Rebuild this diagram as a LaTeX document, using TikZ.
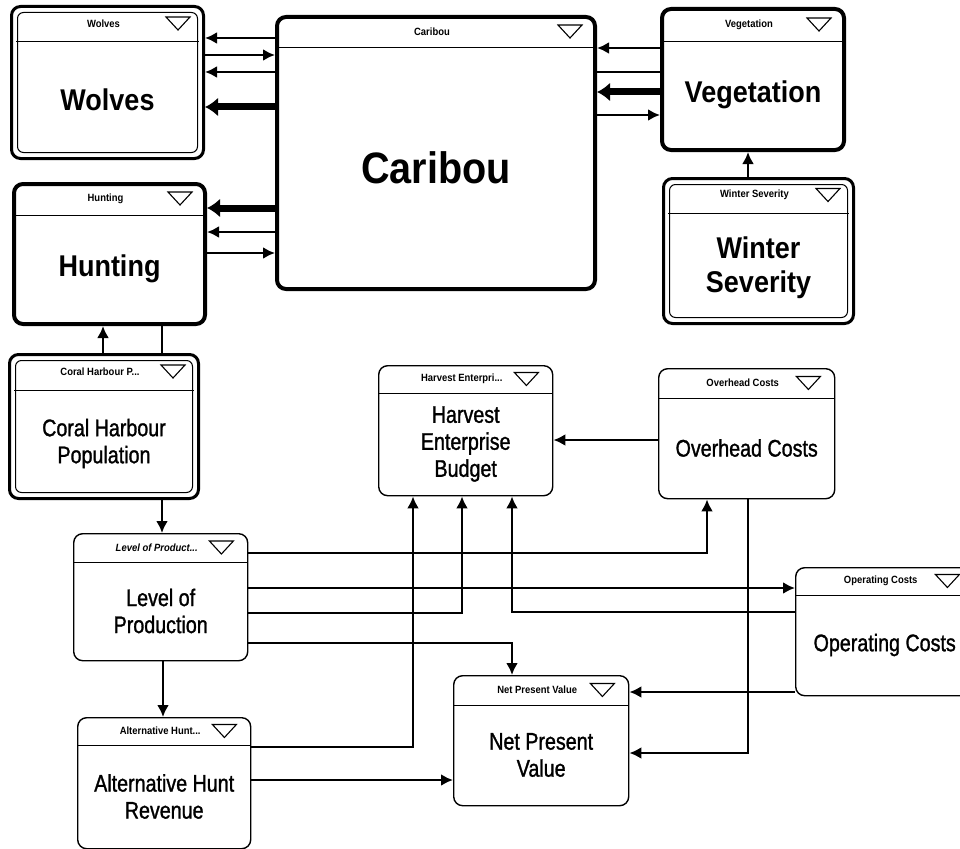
\documentclass[tikz,border=0pt]{standalone}
\usepackage{fontspec}
\newfontfamily\modfont[FakeStretch=0.9]{Liberation Sans}
\newfontfamily\labelfont[FakeStretch=0.82, FakeBold=1.2]{Liberation Sans}
\usetikzlibrary{arrows.meta,backgrounds}

% one model module: box, title bar, menu triangle, label
% #1 name, #2 box style, #3 label style, #4 top left corner,
% #5 width, #6 height, #7 title bar height, #8 title, #9 label
\newcommand{\modul}[9]{%
  \node[#2, minimum width=#5pt, minimum height=#6pt] (#1) at #4 {};
  \draw[headline, #2-line] ([yshift=-#7pt]#1.north west) -- ([yshift=-#7pt]#1.north east);
  \node[headtxt] (#1-head) at ([xshift=-4pt, yshift=-#7pt/2]#1.north) {#8};
  \draw[line width=1.1pt, line join=miter]
    ([xshift=-39pt, yshift=-#7pt/2+6.5pt]#1.north east) -- ++(24,0) -- ++(-12,13) -- cycle;
  \node[#3] (#1-label) at ([yshift=-#6pt/2-#7pt/2]#1.north) {#9};
}

\tikzset{
  box/.style={draw, fill=white, rounded corners=9pt, inner sep=0pt, anchor=north west},
  thinbox/.style={box, line width=1.4pt},
  thickbox/.style={box, line width=4pt},
  doublebox/.style={box, line width=3pt,
    path picture={\draw[line width=1pt, rounded corners=6pt]
      ([shift={(6pt,-6pt)}]path picture bounding box.north west) rectangle
      ([shift={(-6pt,6pt)}]path picture bounding box.south east);}},
  headline/.style={line width=1pt},
  thinbox-line/.style={},
  thickbox-line/.style={},
  doublebox-line/.style={shorten <=6pt, shorten >=6pt},
  headtxt/.style={font=\modfont\bfseries\fontsize{10.5}{12}\selectfont, inner sep=0pt},
  hugetxt/.style={font=\modfont\bfseries\fontsize{44}{48}\selectfont, align=center, inner sep=0pt},
  bigtxt/.style={font=\modfont\bfseries\fontsize{30}{34}\selectfont, align=center, inner sep=0pt},
  smalltxt/.style={font=\labelfont\fontsize{24}{27}\selectfont, align=center, inner sep=0pt},
  conn/.style={line width=2.8pt, -{Latex[length=12pt,width=12pt]}},
  fatconn/.style={line width=7pt, -{Latex[length=13pt,width=19pt]}},
}

\begin{document}
\begin{tikzpicture}[x=1pt, y=-1pt]
  \useasboundingbox (0,0) rectangle (960,848);

  % ecological part
  \modul{wolves}{doublebox}{bigtxt}{(10,5)}{192}{152}{37}{Wolves}{Wolves}
  \modul{caribou}{thickbox}{hugetxt}{(275,15)}{318}{272}{33}{Caribou}{Caribou}
  \modul{vegetation}{thickbox}{bigtxt}{(660,7)}{182}{141}{35}{Vegetation}{Vegetation}
  \modul{winter}{doublebox}{bigtxt}{(662,177)}{190}{145}{36}{Winter Severity}{Winter\\Severity}
  \modul{hunting}{thickbox}{bigtxt}{(12,182)}{191}{140}{33}{Hunting}{Hunting}
  \modul{coral}{doublebox}{smalltxt}{(8,353)}{189}{144}{37}{Coral Harbour P...}{Coral Harbour\\Population}

  % economic part
  \modul{harvest}{thinbox}{smalltxt}{(378,365)}{174}{130}{28}{Harvest Enterpri...}{Harvest\\Enterprise\\Budget}
  \modul{overhead}{thinbox}{smalltxt}{(658,368)}{176}{130}{30}{Overhead Costs}{Overhead Costs}
  \modul{level}{thinbox}{smalltxt}{(73,533)}{174}{127}{29}{\itshape Level of Product...}{Level of\\Production}
  \modul{operating}{thinbox}{smalltxt}{(795,567)}{178}{128}{28}{Operating Costs}{Operating Costs}
  \modul{npv}{thinbox}{smalltxt}{(453,675)}{175}{130}{30}{Net Present Value}{Net Present\\Value}
  \modul{alternative}{thinbox}{smalltxt}{(77,717)}{173}{131}{28}{Alternative Hunt...}{Alternative Hunt\\Revenue}

  % caribou links
  \draw[conn] (caribou.west |- 0,38) -- (wolves.east |- 0,38);
  \draw[conn] (wolves.east |- 0,55) -- (caribou.west |- 0,55);
  \draw[conn] (caribou.west |- 0,72) -- (wolves.east |- 0,72);
  \draw[fatconn] (caribou.west |- 0,107) -- (wolves.east |- 0,107);
  \draw[fatconn] (caribou.west |- 0,208) -- (hunting.east |- 0,208);
  \draw[conn] (caribou.west |- 0,232) -- (hunting.east |- 0,232);
  \draw[conn] (hunting.east |- 0,253) -- (caribou.west |- 0,253);
  \draw[conn] (vegetation.west |- 0,48) -- (caribou.east |- 0,48);
  \draw[line width=2.8pt] (vegetation.west |- 0,72) -- (caribou.east |- 0,72);
  \draw[fatconn] (vegetation.west |- 0,92) -- (caribou.east |- 0,92);
  \draw[conn] (caribou.east |- 0,115) -- (vegetation.west |- 0,115);
  \draw[conn] (winter.north -| 748,0) -- (vegetation.south -| 748,0);
  \draw[conn] (coral.north -| 103,0) -- (hunting.south -| 103,0);
  \begin{pgfonlayer}{background}
    \fill[white] (0,0) rectangle (960,848);
    \draw[conn] (hunting.south -| 162,0) -- (level.north -| 162,0);
  \end{pgfonlayer}

  % budget links
  \draw[conn] (level.south -| 163,0) -- (alternative.north -| 163,0);
  \draw[conn] (level.east |- 0,553) -| (overhead.south -| 707,0);
  \draw[conn] (level.east |- 0,588) -- (operating.west |- 0,588);
  \draw[conn] (level.east |- 0,613) -| (harvest.south -| 462,0);
  \draw[conn] (level.east |- 0,643) -| (npv.north -| 512,0);
  \draw[conn] (operating.west |- 0,612) -| (harvest.south -| 512,0);
  \draw[conn] (alternative.east |- 0,747) -| (harvest.south -| 413,0);
  \draw[conn] (alternative.east |- 0,780) -- (npv.west |- 0,780);
  \draw[conn] (operating.west |- 0,692) -- (npv.east |- 0,692);
  \draw[conn] (overhead.south -| 748,0) |- (npv.east |- 0,753);
  \draw[conn] (overhead.west |- 0,440) -- (harvest.east |- 0,440);
\end{tikzpicture}
\end{document}
